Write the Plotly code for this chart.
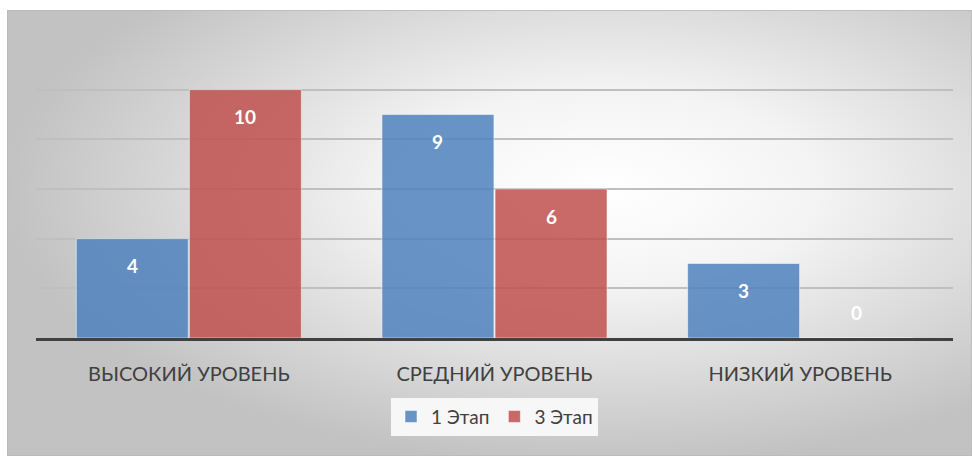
import base64
import plotly.graph_objects as go

categories = ['ВЫСОКИЙ УРОВЕНЬ', 'СРЕДНИЙ УРОВЕНЬ', 'НИЗКИЙ УРОВЕНЬ']
stage1 = [4, 9, 3]
stage3 = [10, 6, 0]
series_names = ['1 Этап', '3 Этап']

W, H = 972, 456
margin = dict(l=36, r=19, t=40, b=118)
bargap = 0.26

blue = 'rgba(79,129,189,0.85)'
red = 'rgba(192,80,77,0.85)'
font_family = 'Lato, "Noto Sans", sans-serif'

# radial grey-to-white background like the Excel chart area
svg = (
    '<svg xmlns="http://www.w3.org/2000/svg" width="965" height="446" '
    'viewBox="0 0 965 446" preserveAspectRatio="none">'
    '<defs><radialGradient id="g" cx="0.62" cy="0.4" r="0.62">'
    '<stop offset="0" stop-color="#ffffff"/>'
    '<stop offset="0.35" stop-color="#f4f4f4"/>'
    '<stop offset="1" stop-color="#c2c2c2"/>'
    '</radialGradient></defs>'
    '<rect x="0" y="0" width="965" height="446" fill="url(#g)" '
    'stroke="#b8b8b8" stroke-width="1.5"/></svg>'
)
bg_src = 'data:image/svg+xml;base64,' + base64.b64encode(svg.encode()).decode()

pw = W - margin['l'] - margin['r']
ph = H - margin['t'] - margin['b']

x = list(range(len(categories)))
fig = go.Figure()
fig.add_trace(go.Bar(x=x, y=stage1, name=series_names[0], marker=dict(color=blue, line=dict(color='rgba(255,255,255,0.5)', width=1))))
fig.add_trace(go.Bar(x=x, y=stage3, name=series_names[1], marker=dict(color=red, line=dict(color='rgba(255,255,255,0.5)', width=1))))

# data labels, placed near the top inside each bar
half = (1 - bargap) / 4
for vals, off in [(stage1, -half), (stage3, half)]:
    for i, v in enumerate(vals):
        fig.add_annotation(x=i + off, y=v, text=f'<b>{v}</b>', showarrow=False,
                           yshift=-27 if v > 0 else 26,
                           font=dict(family=font_family, size=19, color='white'))

fig.update_layout(
    width=W, height=H,
    margin=margin,
    paper_bgcolor='white',
    plot_bgcolor='rgba(0,0,0,0)',
    barmode='group',
    bargap=bargap,
    bargroupgap=0.01,
    font=dict(family=font_family, size=20, color='#404040'),
    images=[dict(source=bg_src, xref='paper', yref='paper',
                 x=(7 - margin['l']) / pw, y=(H - margin['b'] - 10) / ph,
                 sizex=(W - 7) / pw, sizey=(H - 10) / ph,
                 xanchor='left', yanchor='top', sizing='stretch', layer='below')],
    legend=dict(orientation='h', x=0.5, xanchor='center', y=-0.2, yanchor='top',
                bgcolor='#f7f7f7', font=dict(size=19, color='#404040'),
                traceorder='normal', itemwidth=30),
)
fig.update_xaxes(tickvals=x, ticktext=categories, range=[-0.5, len(categories) - 0.5],
                 showline=True, linecolor='#404040', linewidth=3, ticks='',
                 ticklabelstandoff=16, showgrid=False, zeroline=False)
fig.update_yaxes(range=[0, 12], dtick=2, showticklabels=False, showgrid=True,
                 gridcolor='#bfbfbf', gridwidth=1.5, zeroline=False)

fig.write_html('out.html', config={'displayModeBar': False},
               post_script="document.body.style.margin='0';")
